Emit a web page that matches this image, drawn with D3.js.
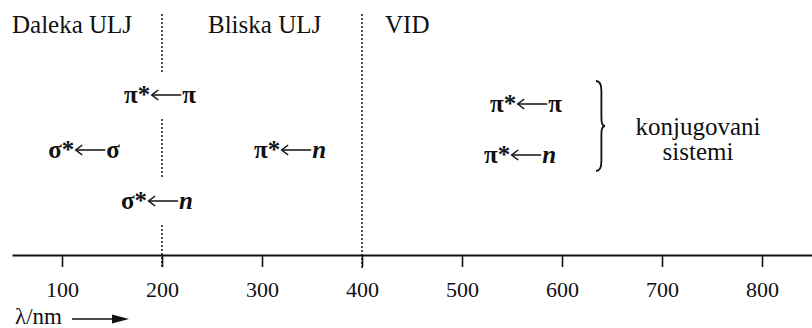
<!DOCTYPE html>
<html>
<head>
<meta charset="utf-8">
<script src="https://cdn.jsdelivr.net/npm/d3@7"></script>
<style>
  html, body { margin: 0; padding: 0; background: #fff; }
  svg { display: block; }
  svg text { font-family: "Liberation Serif", "Times New Roman", Times, Tinos, "Nimbus Roman", "Nimbus Roman No9 L", "TeX Gyre Termes", FreeSerif, "DejaVu Serif", "Noto Serif", serif; }
</style>
</head>
<body>
<svg id="chart" width="812" height="328"></svg>
<script>
// Spectral regions (header labels), with the wavelength where each label starts
const regionNames = ["Daleka ULJ", "Bliska ULJ", "VID"];
const regionStarts = [50, 246, 423];
// Region boundaries drawn as dotted lines (nm)
const boundaries = [200, 400];
// Axis ticks (nm)
const tickValues = [100, 200, 300, 400, 500, 600, 700, 800];

// Electronic transitions: upper orbital, lower orbital, centre wavelength (nm), row
const transUpper = ["π*", "σ*", "σ*", "π*", "π*", "π*"];
const transLower = ["π", "σ", "n", "n", "π", "n"];
const transNm    = [198, 122, 195, 328, 564, 558];
const transRow   = ["a", "b", "c", "b", "ra", "rb"];

// Label for conjugated systems
const groupLines = ["konjugovani", "sistemi"];
const groupNm = 736;

const svg = d3.select("#chart");
const axisY = 255;

const x = d3.scaleLinear().domain([50, 850]).range([12, 812]);
// Baselines of the label rows
const rowY = d3.scaleOrdinal()
  .domain(["a", "b", "c", "ra", "rb"])
  .range([103, 158, 209, 112, 163]);

// Header labels
svg.selectAll("text.region")
  .data(regionNames)
  .join("text")
  .attr("class", "region")
  .attr("x", (d, i) => x(regionStarts[i]))
  .attr("y", 33)
  .attr("font-size", 25)
  .attr("fill", "#111")
  .text(d => d);

// Transition labels: upper orbital, long arrow, lower orbital
const trans = transUpper.map((u, i) => ({ u, l: transLower[i], nm: transNm[i], row: transRow[i] }));
const arrowLen = 30, gap = 1;
const boxes = [];
svg.selectAll("g.trans")
  .data(trans)
  .join("g")
  .attr("class", "trans")
  .each(function (d) {
    const g = d3.select(this);
    const t1 = g.append("text")
      .attr("x", 0).attr("y", 0)
      .attr("font-size", 25).attr("font-weight", "bold").attr("fill", "#111")
      .text(d.u);
    const w1 = t1.node().getComputedTextLength();
    const ax0 = w1 + gap, ax1 = ax0 + arrowLen;
    const ay = -8;
    g.append("line")
      .attr("x1", ax0 + 1).attr("x2", ax1)
      .attr("y1", ay).attr("y2", ay)
      .attr("stroke", "#111").attr("stroke-width", 1.5);
    g.append("path")
      .attr("d", `M${ax0 + 7},${ay - 5} L${ax0 + 0.5},${ay} L${ax0 + 7},${ay + 5}`)
      .attr("fill", "none").attr("stroke", "#111").attr("stroke-width", 1.5);
    const t2 = g.append("text")
      .attr("x", ax1 + gap).attr("y", 0)
      .attr("font-size", 25).attr("font-weight", "bold")
      .attr("font-style", d.l === "n" ? "italic" : "normal")
      .attr("fill", "#111")
      .text(d.l);
    const total = ax1 + gap + t2.node().getComputedTextLength();
    const left = x(d.nm) - total / 2, base = rowY(d.row);
    g.attr("transform", `translate(${left},${base})`);
    boxes.push({ x0: left, x1: left + total, y0: base - 17, y1: base + 2 });
  });

// Dotted region boundaries, interrupted where a label crosses them
const pad = 14;
boundaries.forEach(b => {
  const bx = x(b);
  const gaps = boxes
    .filter(bb => bb.x0 < bx && bb.x1 > bx)
    .map(bb => [bb.y0 - pad, bb.y1 + pad])
    .sort((p, q) => p[0] - q[0]);
  let start = 14;
  const segs = [];
  gaps.forEach(g => { if (g[0] > start) segs.push([start, g[0]]); start = Math.max(start, g[1]); });
  segs.push([start, axisY + 13]);
  segs.forEach(s => {
    svg.append("line")
      .attr("x1", bx).attr("x2", bx)
      .attr("y1", s[0]).attr("y2", s[1])
      .attr("stroke", "#222")
      .attr("stroke-width", 1.6)
      .attr("stroke-dasharray", "2,2");
  });
});

// Curly brace grouping the conjugated-system transitions
const bTop = 81, bBot = 171, bMid = (bTop + bBot) / 2, bx0 = 596, bw = 9;
svg.append("path")
  .attr("d", `M${bx0},${bTop} Q${bx0 + bw * 0.6},${bTop} ${bx0 + bw * 0.6},${bTop + 10}
              L${bx0 + bw * 0.6},${bMid - 8} Q${bx0 + bw * 0.6},${bMid} ${bx0 + bw},${bMid}
              Q${bx0 + bw * 0.6},${bMid} ${bx0 + bw * 0.6},${bMid + 8}
              L${bx0 + bw * 0.6},${bBot - 10} Q${bx0 + bw * 0.6},${bBot} ${bx0},${bBot}`)
  .attr("fill", "none")
  .attr("stroke", "#111")
  .attr("stroke-width", 1.8);

svg.selectAll("text.group")
  .data(groupLines)
  .join("text")
  .attr("class", "group")
  .attr("x", x(groupNm))
  .attr("y", (d, i) => 135 + i * 25)
  .attr("text-anchor", "middle")
  .attr("font-size", 25)
  .attr("fill", "#111")
  .text(d => d);

// Wavelength axis
const axis = d3.axisBottom(x)
  .tickValues(tickValues)
  .tickSize(12)
  .tickSizeOuter(0)
  .tickPadding(14)
  .tickFormat(d3.format("d"));
const ag = svg.append("g")
  .attr("transform", `translate(0,${axisY})`)
  .call(axis);
ag.attr("font-family", null);
ag.select(".domain").attr("stroke", "#111").attr("stroke-width", 2);
ag.selectAll(".tick line").attr("stroke", "#111").attr("stroke-width", 1.6);
ag.selectAll(".tick text")
  .attr("font-size", 22)
  .attr("fill", "#111");

// Axis title with arrow
svg.append("text")
  .attr("x", 15).attr("y", 324)
  .attr("font-size", 23)
  .attr("fill", "#111")
  .text("λ/nm");
svg.append("line")
  .attr("x1", 72).attr("x2", 116)
  .attr("y1", 319).attr("y2", 319)
  .attr("stroke", "#111").attr("stroke-width", 1.6);
svg.append("path")
  .attr("d", "M112,314.5 L129,319 L112,323.5 Z")
  .attr("fill", "#111");
</script>
</body>
</html>
